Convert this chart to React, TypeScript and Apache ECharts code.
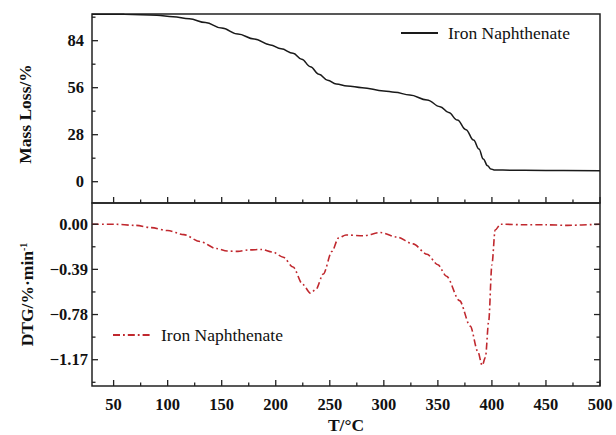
import React, { useEffect, useRef } from "react";
import * as echarts from "echarts";

// TG curve (temperature °C, mass %)
const tgTemp = [30, 60, 90, 105, 120, 135, 150, 165, 180, 195, 205, 216, 224, 232, 240, 248, 256, 266, 280, 300, 310, 324, 340, 352, 360, 368, 376, 383, 388, 392, 396, 399, 402, 410, 450, 500];
const tgMass = [99.8, 99.7, 99.2, 98.3, 97.0, 94.8, 91.5, 88.0, 85.0, 81.5, 79.2, 76.5, 73.0, 68.5, 64.0, 60.5, 58.2, 57.0, 56.0, 54.1, 53.3, 51.6, 48.7, 44.7, 41.2, 36.7, 31.0, 24.8, 19.5, 13.5, 9.5, 7.6, 7.0, 6.9, 6.7, 6.5];

// DTG curve (temperature °C, %/min)
const dtgTemp = [30, 50, 70, 85, 100, 115, 130, 145, 155, 165, 175, 187, 197, 207, 216, 225, 232, 237, 244, 252, 258, 265, 281, 297, 312, 327, 340, 350, 358, 370, 380, 387, 391, 394, 397, 400, 403, 408, 430, 450, 470, 500];
const dtgVal = [0.0, 0.0, -0.01, -0.03, -0.055, -0.09, -0.15, -0.21, -0.232, -0.235, -0.222, -0.218, -0.24, -0.285, -0.37, -0.52, -0.595, -0.565, -0.43, -0.235, -0.12, -0.093, -0.1, -0.072, -0.11, -0.17, -0.26, -0.35, -0.45, -0.66, -0.88, -1.1, -1.22, -1.15, -0.84, -0.35, -0.05, 0.0, -0.005, -0.005, -0.01, 0.0];

// ticks
const xMajor = [50, 100, 150, 200, 250, 300, 350, 400, 450, 500];
const xMinor = [75, 125, 175, 225, 275, 325, 375, 425, 475];
const tgMajor = [0, 28, 56, 84];
const tgMinor = [14, 42, 70, 98];
const dtgMajor = [0, -0.39, -0.78, -1.17];
const dtgMinor = [-0.195, -0.585, -0.975, -1.365];

const FONT = "Liberation Serif";
const AXIS_COLOR = "#222";

export default function App() {
  const ref = useRef<HTMLDivElement>(null);
  useEffect(() => {
    if (!ref.current) return;
    const chart = echarts.init(ref.current, null, { renderer: "svg" });

    const L = 92, R = 600, T1 = 14, B1 = 203, B2 = 393, W = 616;
    const border = { show: true, borderColor: AXIS_COLOR, borderWidth: 1.5, backgroundColor: "transparent" };
    const xRange = { min: 30, max: 500 };
    const tgRange = { min: -12.69, max: 99.9 };
    const dtgRange = { min: -1.397, max: 0.183 };
    const hidden = { show: false };

    const labelStyle = { fontFamily: FONT, fontWeight: "bold", fontSize: 16.5, color: "#111" };
    const nameStyle = { fontFamily: FONT, fontWeight: "bold", fontSize: 17.5, color: "#111" };
    const legendBase = {
      padding: 0,
      itemWidth: 37,
      itemHeight: 14,
      itemStyle: { opacity: 0 },
      formatter: () => "Iron Naphthenate",
    };

    // tick marks drawn through the axes' scales (api.coord); dir = pixel direction into the panel
    const tickSeries = (gi: number, data: number[][], len: number, dx: number, dy: number) => ({
      type: "custom",
      xAxisIndex: gi,
      yAxisIndex: gi,
      silent: true,
      z: 5,
      data,
      renderItem: (_p: any, api: any) => {
        const pt = api.coord([api.value(0), api.value(1)]);
        return {
          type: "line",
          shape: { x1: pt[0], y1: pt[1], x2: pt[0] + dx * len, y2: pt[1] + dy * len },
          style: { stroke: AXIS_COLOR, lineWidth: 1.3 },
        };
      },
    });

    const option: any = {
      animation: false,
      grid: [
        { left: L, right: W - R, top: T1, height: B1 - T1, ...border },
        { left: L, right: W - R, top: B1, height: B2 - B1, ...border },
      ],
      xAxis: [
        { type: "value", gridIndex: 0, ...xRange, axisLine: { show: false, onZero: false }, axisTick: hidden, axisLabel: hidden, splitLine: hidden },
        {
          type: "value",
          gridIndex: 1,
          ...xRange,
          axisLine: { show: false, onZero: false },
          axisTick: hidden,
          splitLine: hidden,
          axisLabel: { ...labelStyle, margin: 10, customValues: xMajor, formatter: (v: number) => String(v) },
          name: "T/°C",
          nameLocation: "middle",
          nameGap: 30,
          nameTextStyle: nameStyle,
        },
      ],
      yAxis: [
        {
          type: "value",
          gridIndex: 0,
          ...tgRange,
          axisLine: { show: false, onZero: false },
          axisTick: hidden,
          splitLine: hidden,
          axisLabel: { ...labelStyle, margin: 8, customValues: tgMajor, formatter: (v: number) => String(v) },
          name: "Mass Loss/%",
          nameLocation: "middle",
          nameGap: 58,
          nameRotate: 90,
          nameTextStyle: { ...nameStyle, padding: [0, 11, 0, 0] },
        },
        {
          type: "value",
          gridIndex: 1,
          ...dtgRange,
          axisLine: { show: false, onZero: false },
          axisTick: hidden,
          splitLine: hidden,
          axisLabel: {
            ...labelStyle,
            margin: 4,
            customValues: dtgMajor,
            formatter: (v: number) => (Math.abs(v) < 1e-9 ? "0.00" : "\u2212" + Math.abs(v).toFixed(2)),
          },
          name: "DTG/%·min{sup|-1}",
          nameLocation: "middle",
          nameGap: 56,
          nameRotate: 90,
          nameTextStyle: {
            ...nameStyle,
            rich: { sup: { fontFamily: FONT, fontWeight: "bold", fontSize: 10, color: "#111", verticalAlign: "top" } },
          },
        },
      ],
      legend: [
        {
          ...legendBase,
          data: ["TG"],
          left: 400,
          top: 24,
          textStyle: { fontFamily: FONT, fontSize: 17.5, color: "#111", padding: [0, 0, 0, 5] },
        },
        {
          ...legendBase,
          data: ["DTG"],
          left: 112,
          top: 326,
          textStyle: { fontFamily: FONT, fontSize: 17.5, color: "#111", padding: [0, 0, 0, 6] },
        },
      ],
      series: [
        {
          name: "TG",
          type: "line",
          xAxisIndex: 0,
          yAxisIndex: 0,
          data: tgTemp.map((t, i) => [t, tgMass[i]]),
          symbol: "none",
          smooth: 0.4,
          smoothMonotone: "x",
          lineStyle: { color: "#1a1a1a", width: 1.5 },
          itemStyle: { color: "#1a1a1a" },
        },
        {
          name: "DTG",
          type: "line",
          xAxisIndex: 1,
          yAxisIndex: 1,
          data: dtgTemp.map((t, i) => [t, dtgVal[i]]),
          symbol: "none",
          smooth: 0.3,
          smoothMonotone: "x",
          lineStyle: { color: "#c0282e", width: 1.6, type: [7, 3, 1.8, 3] },
          itemStyle: { color: "#c0282e" },
        },
        // top panel: bottom edge x ticks, left edge y ticks
        tickSeries(0, xMajor.map((v) => [v, tgRange.min]), 6, 0, -1),
        tickSeries(0, xMinor.map((v) => [v, tgRange.min]), 3.5, 0, -1),
        tickSeries(0, tgMajor.map((v) => [xRange.min, v]), 6, 1, 0),
        tickSeries(0, tgMinor.map((v) => [xRange.min, v]), 3.5, 1, 0),
        // bottom panel: bottom edge x ticks, left and right edge y ticks
        tickSeries(1, xMajor.map((v) => [v, dtgRange.min]), 6, 0, -1),
        tickSeries(1, xMinor.map((v) => [v, dtgRange.min]), 3.5, 0, -1),
        tickSeries(1, dtgMajor.map((v) => [xRange.min, v]), 6, 1, 0),
        tickSeries(1, dtgMinor.map((v) => [xRange.min, v]), 3.5, 1, 0),
        tickSeries(1, dtgMajor.map((v) => [xRange.max, v]), 6, -1, 0),
        tickSeries(1, dtgMinor.map((v) => [xRange.max, v]), 3.5, -1, 0),
      ],
    };
    chart.setOption(option);
    return () => chart.dispose();
  }, []);
  return <div ref={ref} style={{ position: "absolute", left: 0, top: 0, width: 616, height: 435, background: "#fff" }} />;
}
